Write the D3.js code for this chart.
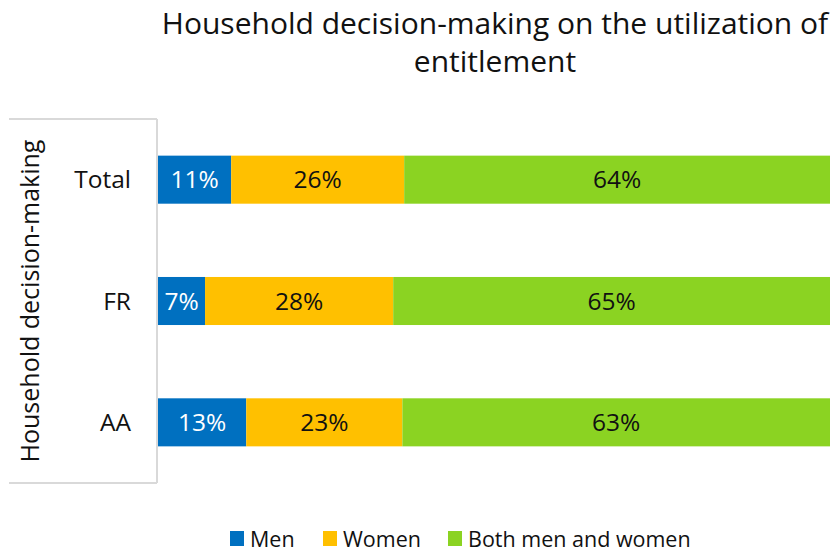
<!DOCTYPE html>
<html>
<head>
<meta charset="utf-8">
<script src="https://cdn.jsdelivr.net/npm/d3@7"></script>
<style>
  html, body { margin: 0; padding: 0; background: #fff; }
  svg { display: block; font-family: "Open Sans", "Noto Sans", sans-serif; }
</style>
</head>
<body>
<svg id="chart" width="830" height="552"></svg>
<script>
// Categories (top to bottom) and series shares in percent
const categories = ["Total", "FR", "AA"];
const seriesNames = ["Men", "Women", "Both men and women"];
const men = [11, 7, 13];
const women = [26, 28, 23];
const both = [64, 65, 63];
const colors = ["#0070C0", "#FFC000", "#8BD322"];
const labelColors = ["#ffffff", "#111111", "#111111"];
const titleLines = ["Household decision-making on the utilization of", "entitlement"];
const axisTitle = "Household decision-making";

const rows = categories.map((c, i) => ({
  category: c,
  "Men": men[i],
  "Women": women[i],
  "Both men and women": both[i]
}));

const svg = d3.select("#chart");

const plot = { left: 158, right: 830, top: 119, bottom: 483 };

// 100% stacked bars: each row is normalised to its own total
const stack = d3.stack().keys(seriesNames).offset(d3.stackOffsetExpand);
const layers = stack(rows);

const x = d3.scaleLinear().domain([0, 1]).range([plot.left, plot.right]);
const y = d3.scaleBand()
  .domain(categories)
  .range([plot.top, plot.bottom])
  .paddingInner(0.604)
  .paddingOuter(0.302);

// Title
svg.append("g")
  .selectAll("text")
  .data(titleLines)
  .join("text")
  .attr("x", 495)
  .attr("y", (d, i) => 34 + i * 38)
  .attr("text-anchor", "middle")
  .attr("font-size", 30)
  .attr("fill", "#111")
  .text(d => d);

// Bars
const layerG = svg.append("g")
  .selectAll("g")
  .data(layers)
  .join("g")
  .attr("fill", (d, i) => colors[i]);

layerG.selectAll("rect")
  .data(d => d)
  .join("rect")
  .attr("x", d => x(d[0]))
  .attr("y", d => y(d.data.category))
  .attr("width", d => x(d[1]) - x(d[0]))
  .attr("height", y.bandwidth());

// Value labels centred in each segment
svg.append("g")
  .selectAll("g")
  .data(layers)
  .join("g")
  .attr("fill", (d, i) => labelColors[i])
  .selectAll("text")
  .data(d => d.map(s => ({ s, key: d.key })))
  .join("text")
  .attr("x", d => (x(d.s[0]) + x(d.s[1])) / 2)
  .attr("y", d => y(d.s.data.category) + y.bandwidth() / 2)
  .attr("dy", "0.36em")
  .attr("text-anchor", "middle")
  .attr("font-size", 24.5)
  .text(d => d.s.data[d.key] + "%");

// Category axis with bracket frame
const axisColor = "#d9d9d9";
const frame = svg.append("g").attr("stroke", axisColor).attr("stroke-width", 2).attr("fill", "none");
frame.append("line").attr("x1", 9).attr("x2", plot.left - 1).attr("y1", plot.top).attr("y2", plot.top);
frame.append("line").attr("x1", 9).attr("x2", plot.left - 1).attr("y1", plot.bottom).attr("y2", plot.bottom);
frame.append("line").attr("x1", plot.left - 1).attr("x2", plot.left - 1).attr("y1", plot.top).attr("y2", plot.bottom);

svg.append("g")
  .selectAll("text")
  .data(categories)
  .join("text")
  .attr("x", 131)
  .attr("y", d => y(d) + y.bandwidth() / 2)
  .attr("dy", "0.36em")
  .attr("text-anchor", "end")
  .attr("font-size", 24.5)
  .attr("fill", "#111")
  .text(d => d);

svg.append("text")
  .attr("transform", `translate(39, ${(plot.top + plot.bottom) / 2}) rotate(-90)`)
  .attr("text-anchor", "middle")
  .attr("font-size", 25)
  .attr("fill", "#111")
  .text(axisTitle);

// Legend
const legendX = [230, 323, 448];
const legend = svg.append("g")
  .selectAll("g")
  .data(seriesNames)
  .join("g")
  .attr("transform", (d, i) => `translate(${legendX[i]}, 531)`);
legend.append("rect")
  .attr("width", 14)
  .attr("height", 15)
  .attr("fill", (d, i) => colors[i]);
legend.append("text")
  .attr("x", 20)
  .attr("y", 16)
  .attr("font-size", 21.5)
  .attr("fill", "#111")
  .text(d => d);
</script>
</body>
</html>
